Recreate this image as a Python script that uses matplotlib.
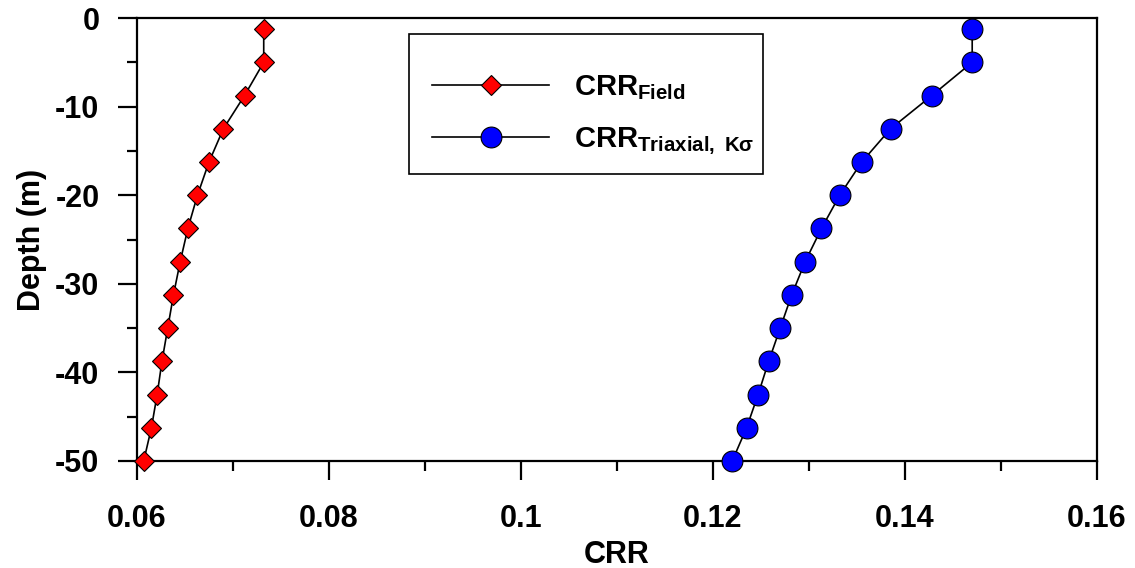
import numpy as np
import matplotlib
matplotlib.use('Agg')
import matplotlib.pyplot as plt
from matplotlib.patches import Rectangle

# depth of the points (m)
depth = [-1.25, -5, -8.75, -12.5, -16.25, -20, -23.75, -27.5,
         -31.25, -35, -38.75, -42.5, -46.25, -50]
# CRR from field tests
crr_field = [0.0732, 0.0732, 0.0712, 0.0690, 0.0675, 0.0663, 0.0653, 0.0645,
             0.0638, 0.0632, 0.0626, 0.0621, 0.0615, 0.0607]
# CRR from triaxial with K-sigma
crr_triax = [0.1470, 0.1470, 0.1428, 0.1385, 0.1355, 0.1332, 0.1313, 0.1296,
             0.1282, 0.1270, 0.1258, 0.1247, 0.1235, 0.1220]

xticks = [0.06, 0.08, 0.1, 0.12, 0.14, 0.16]
xtick_labels = ['0.06', '0.08', '0.1', '0.12', '0.14', '0.16']
yticks = [0, -10, -20, -30, -40, -50]

plt.rcParams['font.family'] = ['Liberation Sans', 'DejaVu Sans']
plt.rcParams['font.weight'] = 'bold'
plt.rcParams['axes.unicode_minus'] = False  # plain hyphen like the original
plt.rcParams['mathtext.fontset'] = 'custom'
plt.rcParams['mathtext.rm'] = 'Liberation Sans:bold'
plt.rcParams['mathtext.bf'] = 'Liberation Sans:bold'
plt.rcParams['mathtext.it'] = 'Liberation Sans'

W, H = 1135, 568
fig = plt.figure(figsize=(W/100, H/100), dpi=100)
ax = fig.add_axes([137/W, 1 - 461/H, (1097 - 137)/W, (461 - 18)/H])

ax.plot(crr_field, depth, color='black', linewidth=1.2, marker='D', markersize=10.5,
        markerfacecolor='red', markeredgecolor='black', markeredgewidth=0.8,
        clip_on=False, zorder=3, label=r'CRR$_{\mathregular{Field}}$')
ax.plot(crr_triax, depth, color='black', linewidth=1.2, marker='o', markersize=15,
        markerfacecolor='blue', markeredgecolor='black', markeredgewidth=0.8,
        clip_on=False, zorder=3, label=r'CRR$_{\mathregular{Triaxial,\ K}\sigma}$')

ax.set_xlim(0.06, 0.16)
ax.set_ylim(-50, 0)
ax.set_xticks(xticks)
ax.set_xticklabels(xtick_labels)
ax.set_xticks(np.arange(0.07, 0.16, 0.02), minor=True)
ax.set_yticks(yticks)
ax.set_yticks(np.arange(-45, 0, 10), minor=True)

for s in ax.spines.values():
    s.set_linewidth(1.6)
ax.tick_params(which='both', direction='out', width=1.6, labelsize=22)
ax.tick_params(axis='x', which='major', length=14, pad=17)
ax.tick_params(axis='y', which='major', length=14, pad=13)
ax.tick_params(which='minor', length=7)

ax.set_xlabel('CRR', fontsize=22, fontweight='bold', labelpad=4)
ax.set_ylabel('Depth (m)', fontsize=22, fontweight='bold', labelpad=6)

# legend without its own frame, box drawn separately
leg = ax.legend(loc='upper left', bbox_to_anchor=(409/W, 1 - 50/H),
                bbox_transform=fig.transFigure, borderaxespad=0,
                fontsize=21, handlelength=4.0, handletextpad=0.85,
                borderpad=0.8, labelspacing=0.78, frameon=False)
fig.patches.append(Rectangle((409/W, 1 - 174/H), (763 - 409)/W, (174 - 34)/H,
                             transform=fig.transFigure, fill=False,
                             edgecolor='black', linewidth=1.2, zorder=5))

plt.savefig('out.png', dpi=100)
